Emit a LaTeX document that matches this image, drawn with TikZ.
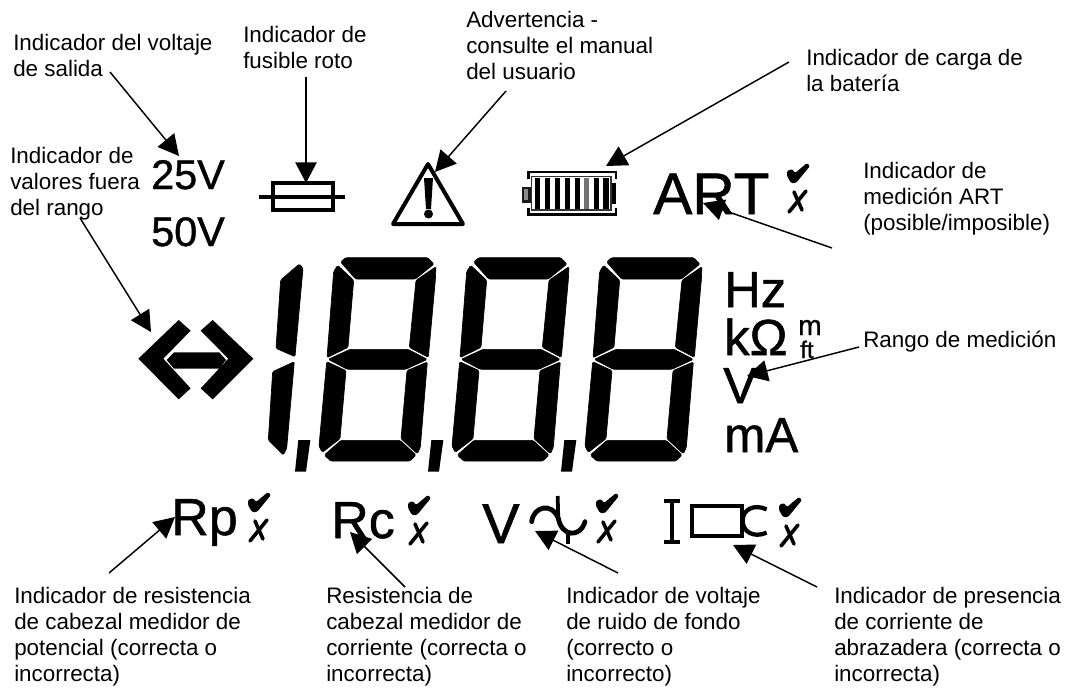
\documentclass[tikz,border=0pt]{standalone}
\usepackage{fontspec}
\setmainfont{Liberation Sans}
\newfontfamily\lcdfont[FakeBold=1.0]{Liberation Sans}
\usetikzlibrary{arrows.meta}
\newcommand{\lcdsize}[1]{\fontsize{#1}{#1}\lcdfont}
\tikzset{
  x=.75pt,y=-.75pt,
  label/.style={anchor=north west,inner sep=0pt,align=left,font=\fontsize{16.8}{19.4}\selectfont},
  lcd/.style={anchor=base west,inner sep=0pt},
  callout/.style={-{Triangle[length=15.5pt,width=16pt]},line width=1.1pt},
  seg/.style={fill=black,draw=black,line width=.5pt,rounded corners=1pt},
  zoomed/.style={x=.25pt,y=-.25pt},
  thick line/.style={line width=3pt,draw=black},
}
\newcommand{\lcddigit}[1]{%
 \begin{scope}[shift={(260+#1,240)},zoomed]
  \path[seg] (242,66)--(257,53)--(503,53)--(522,72)--(466,117)--(287,117)--cycle;
  \path[seg] (233,76)--(281,121)--(264,322)--(201,353)--(221,95)--cycle;
  \path[seg] (528,80)--(526,120)--(505,352)--(448,322)--(468,121)--cycle;
  \path[seg] (205,358)--(270,328)--(444,328)--(502,358)--(437,388)--(262,388)--cycle;
  \path[seg] (200,365)--(258,392)--(240,596)--(187,637)--(177,618)--cycle;
  \path[seg] (502,366)--(481,622)--(472,641)--(423,596)--(441,392)--cycle;
  \path[seg] (193,645)--(243,601)--(420,601)--(468,645)--(450,663)--(212,663)--cycle;
 \end{scope}}
\newcommand{\lcdcomma}[1]{%
 \begin{scope}[shift={(260+#1,240)},zoomed]
  \fill[black] (115,600)--(151,600)--(138,695)--(105,695)--cycle;
 \end{scope}}
\newcommand{\okbad}[2]{%
 \begin{scope}[shift={(#1,#2)}]
  \fill[black,rounded corners=1pt] (1,8)--(6,6)--(9,10)--(21,0)--(24,3)--(10,20)--(5,20)--(1,13)--cycle;
  \draw[black,line width=2.7pt,line cap=round] (20,28)--(3,49);
  \draw[black,line width=2.7pt,line cap=round] (8,29)--(16,47);
 \end{scope}}
\begin{document}
\begin{tikzpicture}
\useasboundingbox (0,0) rectangle (1065,687);
\fill[white] (0,0) rectangle (1065,687);

% --- labels
\node[label] (lvolt) at (13,34) {Indicador del voltaje\\de salida};
\node[label] (lfuse) at (243,26) {Indicador de\\fusible roto};
\node[label] (lwarn) at (466,11) {Advertencia -\\consulte el manual\\del usuario};
\node[label] (lbatt) at (806,49) {Indicador de carga de\\la batería};
\node[label] (lart) at (863,162) {Indicador de\\medición ART\\(posible/imposible)};
\node[label] (lrange) at (10,147) {Indicador de\\valores fuera\\del rango};
\node[label] (lmeas) at (863,331) {Rango de medición};
\node[label] (lrp) at (14,587) {Indicador de resistencia\\de cabezal medidor de\\potencial (correcta o\\incorrecta)};
\node[label] (lrc) at (326,587) {Resistencia de\\cabezal medidor de\\corriente (correcta o\\incorrecta)};
\node[label] (lnoise) at (566,587) {Indicador de voltaje\\de ruido de fondo\\(correcto o\\incorrecto)};
\node[label] (lclamp) at (834,587) {Indicador de presencia\\de corriente de\\abrazadera (correcta o\\incorrecta)};

% --- LCD text
\node[lcd,font=\lcdsize{31}] (v25) at (151,189) {25V};
\node[lcd,font=\lcdsize{31}] (v50) at (151,246) {50V};
\node[lcd,font=\lcdsize{44}] (art) at (653,214) {ART};
\node[lcd,font=\lcdsize{38}] (hz) at (724,307) {Hz};
\node[lcd,font=\lcdsize{38}] (kohm) at (724,355) {kΩ};
\node[lcd,font=\lcdsize{38}] (volt) at (723,403) {V};
\node[lcd,font=\lcdsize{37}] (ma) at (724,452) {mA};
\node[lcd,font=\lcdsize{21}] (um) at (798,335) {m};
\node[lcd,font=\lcdsize{18}] (uft) at (800,358) {ft};
\node[lcd,font=\lcdsize{39}] (rp) at (171,535) {Rp};
\node[lcd,font=\lcdsize{39}] (rc) at (331,538) {Rc};
\node[lcd,font=\lcdsize{42}] (vn) at (482,543) {V};

% --- fuse
\draw[thick line] (273,183) rectangle (333,210);
\draw[thick line] (259,197)--(345,197);

% --- warning
\draw[thick line,line join=round] (428,164)--(393,224)--(463,224)--cycle;
\fill[black] (424,178)--(433,178)--(431,209)--(426,209)--cycle;
\fill[black] (428.5,214) circle (4.5);

% --- battery
\begin{scope}[shift={(515,160)},zoomed]
 \draw[black,line width=2.1pt] (40,58)--(40,36)--(303,36)--(303,58);
 \draw[black,line width=2.1pt] (40,145)--(40,164)--(303,164)--(303,145);
 \draw[black!80,line width=1pt] (50,50) rectangle (288,150);
 \draw[black!90,line width=1.8pt,fill=black!45] (24,84) rectangle (44,124);
 \foreach \bx/\bs in {68/100,98/100,128/100,158/100,188/100,215/55,245/100,273/100}
  \fill[black!\bs] (\bx-8,54) rectangle (\bx+8,146);
 \fill[black] (290,70) rectangle (303,132);
\end{scope}

% --- range arrows symbol
\begin{scope}[shift={(130,320)},zoomed]
 \fill[black] (25,116)--(146,0)--(182,32)--(100,116)--(182,205)--(146,238)--cycle;
 \fill[black] (370,116)--(248,0)--(212,32)--(295,116)--(212,205)--(248,238)--cycle;
 \fill[black] (110,120)--(132,97)--(268,97)--(288,120)--(268,146)--(132,146)--cycle;
\end{scope}

% --- digits
\begin{scope}[shift={(260,240)},zoomed]
 \path[seg] (118,72)--(129,85)--(105,350)--(48,325)--(62,120)--cycle;
 \path[seg] (103,365)--(80,625)--(70,645)--(25,600)--(38,395)--cycle;
\end{scope}
\lcddigit{0}\lcddigit{133}\lcddigit{266}
\lcdcomma{0}\lcdcomma{133}\lcdcomma{266}

% --- check / cross marks
\okbad{786}{163}
\okbad{247}{492}
\okbad{407}{495}
\okbad{595}{493}
\okbad{778}{497}

% --- noise symbol
\begin{scope}[shift={(490,470)},zoomed]
 \draw[black,line width=3.6pt,line cap=round] (125,155) .. controls (130,110) and (185,95) .. (205,145) .. controls (215,200) and (270,205) .. (285,155);
 \draw[black,line width=2.8pt] (203,78)--(205,150);
 \draw[black,line width=2.8pt] (235,190)--(235,222);
\end{scope}

% --- clamp symbol
\begin{scope}[shift={(490,470)},zoomed]
 \draw[black,line width=3pt] (522,93)--(570,93) (546,93)--(546,217) (522,217)--(570,217);
 \draw[black,line width=3.2pt] (607,108) rectangle (755,198);
 \draw[black,line width=3.2pt] (830,118) .. controls (790,100) and (758,120) .. (758,152) .. controls (758,185) and (790,205) .. (830,188);
\end{scope}

% --- connector ends
\coordinate (a1) at (110,72);   \coordinate (b1) at (179,156);
\coordinate (a2) at (306,77);   \coordinate (b2) at (306,183);
\coordinate (a3) at (506,91);   \coordinate (b3) at (435,172);
\coordinate (a4) at (789,62);   \coordinate (b4) at (606,166);
\coordinate (a5) at (832,248);  \coordinate (b5) at (703,203);
\coordinate (a6) at (859,347);  \coordinate (b6) at (747,376);
\coordinate (a7) at (80,218);   \coordinate (b7) at (151,332);
\coordinate (a8) at (109,573);  \coordinate (b8) at (175,517);
\coordinate (a9) at (405,587);  \coordinate (b9) at (350,532);
\coordinate (a10) at (618,573); \coordinate (b10) at (535,531);
\coordinate (a11) at (817,587); \coordinate (b11) at (733,545);
\foreach \n in {1,...,11} \draw[callout] (a\n)--(b\n);
\end{tikzpicture}
\end{document}
